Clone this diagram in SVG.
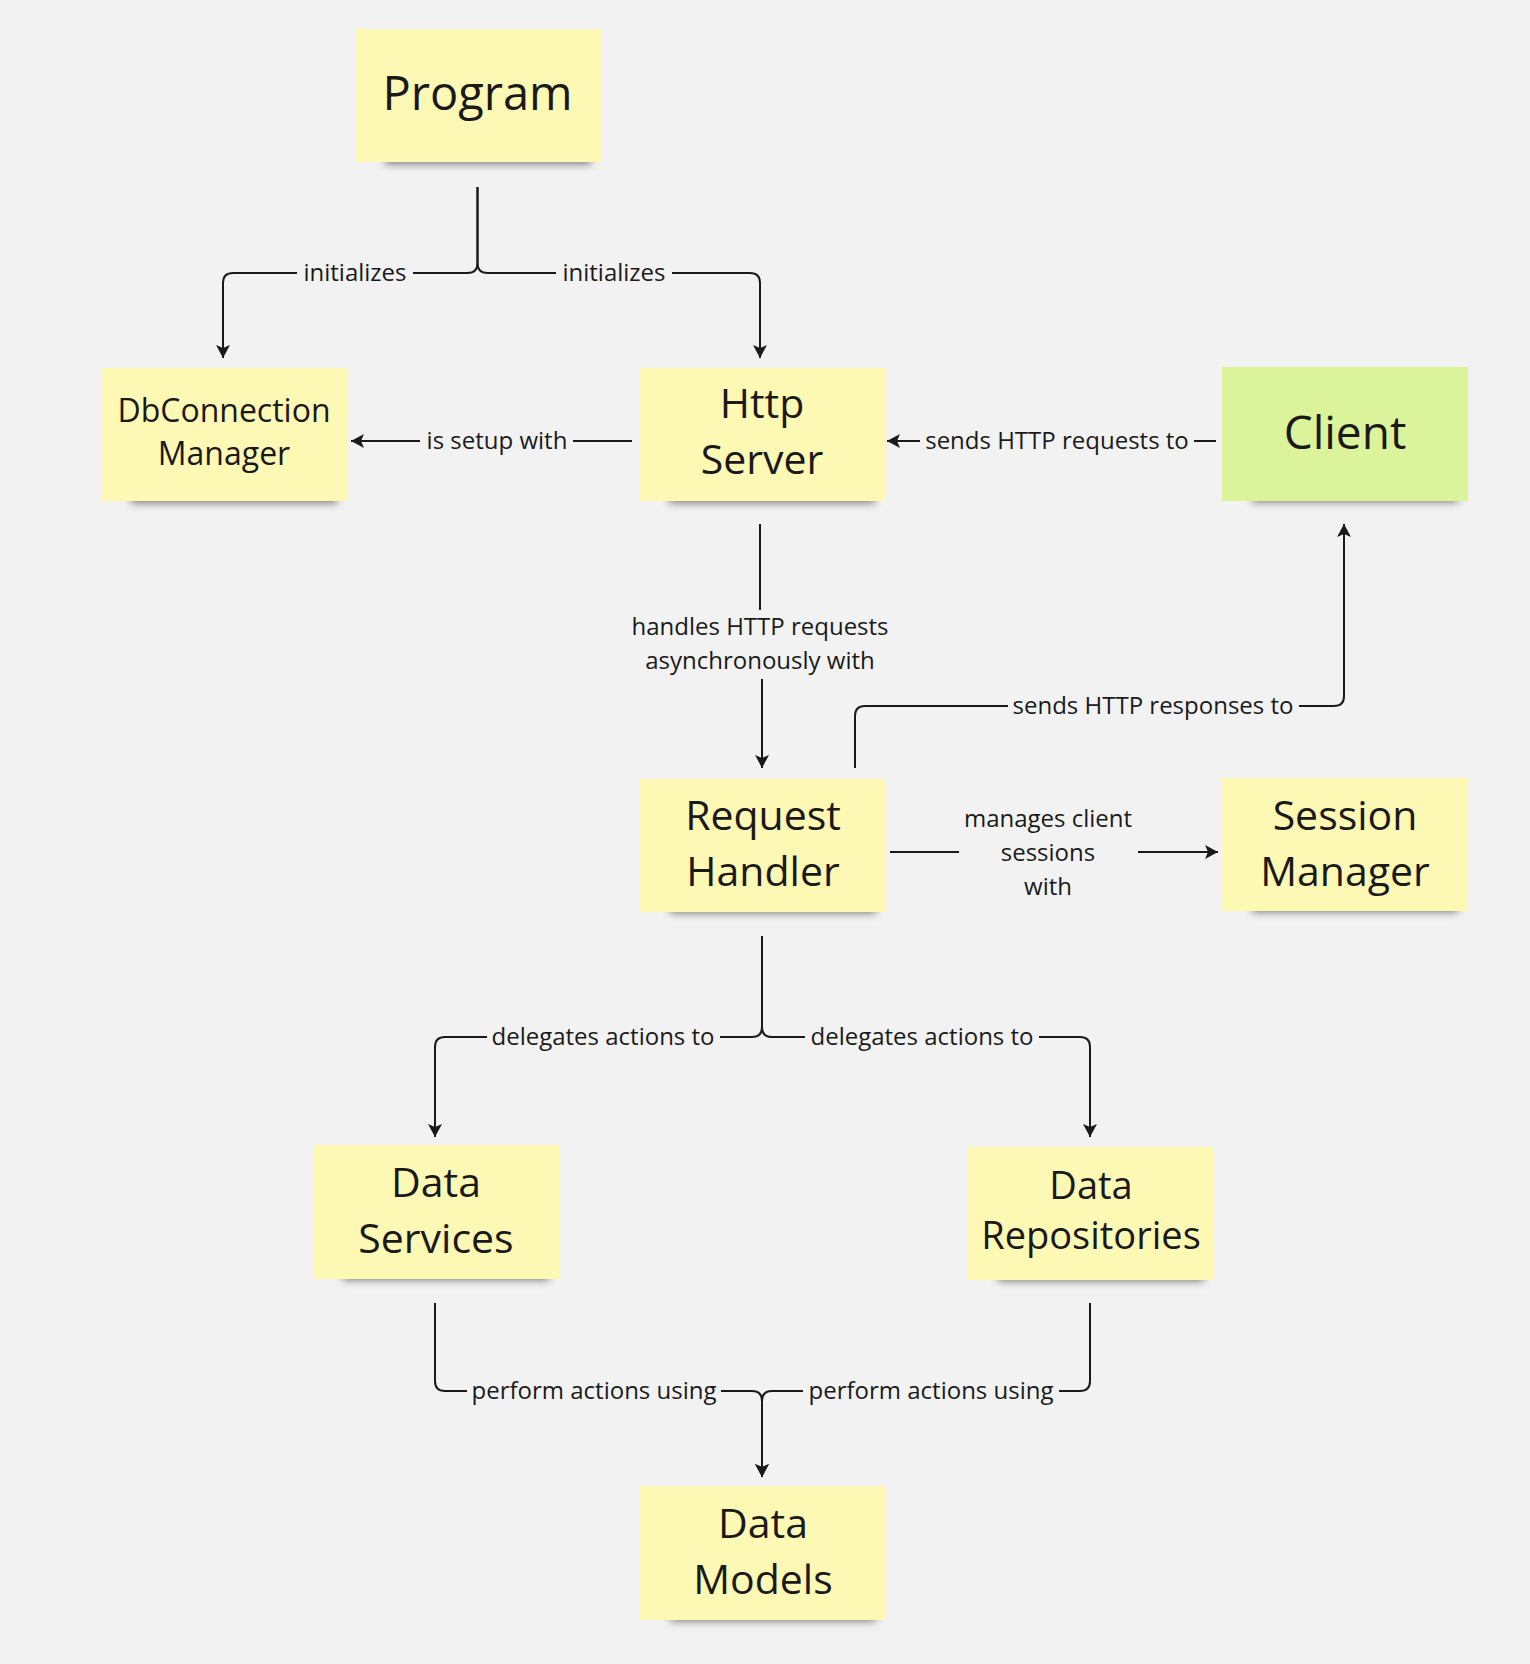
<svg xmlns="http://www.w3.org/2000/svg" width="1530" height="1664" viewBox="0 0 1530 1664">
<style>
.bg{fill:#f2f2f2}
.note{fill:#fef8b5}
.note.green{fill:#dbf39a}
.shadow{fill:#000;opacity:.5}
.nt{font-family:"Open Sans","Noto Sans",sans-serif;fill:#1a1a1a;text-anchor:middle}
.conn{fill:none;stroke:#1a1a1a;stroke-width:2}
.lbl{font-family:"Open Sans","Noto Sans",sans-serif;font-size:24px;fill:#1a1a1a;text-anchor:middle}
.lb{fill:#f2f2f2}
</style>
<defs>
<filter id="sh" x="-20%" y="-100%" width="140%" height="300%"><feGaussianBlur stdDeviation="4"/></filter>
<marker id="arr" markerWidth="14" markerHeight="16" refX="13" refY="8" orient="auto" markerUnits="userSpaceOnUse"><path d="M0,1 L13,8 L0,15 L3,8 z" fill="#1a1a1a"/></marker>
</defs>
<rect class="bg" x="0" y="0" width="1530" height="1664"/>

<g id="connectors">
<path class="conn" d="M477.5,187 V263 Q477.5,273 467.5,273 H233 Q223,273 223,283 V358" marker-end="url(#arr)"/>
<path class="conn" d="M477.5,187 V263 Q477.5,273 487.5,273 H750 Q760,273 760,283 V358" marker-end="url(#arr)"/>
<path class="conn" d="M632,441 H351" marker-end="url(#arr)"/>
<path class="conn" d="M1216,441 H887" marker-end="url(#arr)"/>
<path class="conn" d="M760,524 V610 M762,679 V768" marker-end="url(#arr)"/>
<path class="conn" d="M855,768 V716 Q855,706 865,706 H1334 Q1344,706 1344,696 V524" marker-end="url(#arr)"/>
<path class="conn" d="M890,852 H1218" marker-end="url(#arr)"/>
<path class="conn" d="M762,936 V1027 Q762,1037 752,1037 H445 Q435,1037 435,1047 V1137" marker-end="url(#arr)"/>
<path class="conn" d="M762,936 V1027 Q762,1037 772,1037 H1080 Q1090,1037 1090,1047 V1137" marker-end="url(#arr)"/>
<path class="conn" d="M435,1303 V1381 Q435,1391 445,1391 H752 Q762,1391 762,1401 V1477" marker-end="url(#arr)"/>
<path class="conn" d="M1090,1303 V1381 Q1090,1391 1080,1391 H772 Q762,1391 762,1401 V1477" marker-end="url(#arr)"/>

<rect class="lb" x="297" y="258" width="116" height="30"/>
<text class="lbl" x="355" y="281">initializes</text>
<rect class="lb" x="556" y="258" width="116" height="30"/>
<text class="lbl" x="614" y="281">initializes</text>
<rect class="lb" x="420" y="426" width="153" height="30"/>
<text class="lbl" x="497" y="449">is setup with</text>
<rect class="lb" x="920" y="426" width="274" height="30"/>
<text class="lbl" x="1057" y="449">sends HTTP requests to</text>
<text class="lbl" x="760" y="635">handles HTTP requests</text>
<text class="lbl" x="760" y="669">asynchronously with</text>
<rect class="lb" x="1008" y="691" width="291" height="30"/>
<text class="lbl" x="1153" y="714">sends HTTP responses to</text>
<rect class="lb" x="959" y="837" width="179" height="30"/>
<text class="lbl" x="1048" y="827">manages client</text>
<text class="lbl" x="1048" y="861">sessions</text>
<text class="lbl" x="1048" y="895">with</text>
<rect class="lb" x="487" y="1022" width="233" height="30"/>
<text class="lbl" x="603" y="1045">delegates actions to</text>
<rect class="lb" x="805" y="1022" width="234" height="30"/>
<text class="lbl" x="922" y="1045">delegates actions to</text>
<rect class="lb" x="467" y="1376" width="254" height="30"/>
<text class="lbl" x="594" y="1399">perform actions using</text>
<rect class="lb" x="803" y="1376" width="256" height="30"/>
<text class="lbl" x="931" y="1399">perform actions using</text>
</g>

<g id="program">
<rect class="shadow" x="385" y="150" width="206" height="14" filter="url(#sh)"/>
<rect class="note" x="355" y="29" width="246" height="133"/>
<text class="nt" x="477.5" y="110" font-size="47">Program</text>
</g>
<g id="dbconnection-manager">
<rect class="shadow" x="131" y="489" width="206" height="14" filter="url(#sh)"/>
<rect class="note" x="101" y="368" width="246" height="133"/>
<text class="nt" x="224" y="422" font-size="32">DbConnection</text>
<text class="nt" x="224" y="465" font-size="32">Manager</text>
</g>
<g id="http-server">
<rect class="shadow" x="669" y="489" width="206" height="14" filter="url(#sh)"/>
<rect class="note" x="639" y="368" width="246" height="133"/>
<text class="nt" x="762" y="418" font-size="41">Http</text>
<text class="nt" x="762" y="474" font-size="41">Server</text>
</g>
<g id="client">
<rect class="shadow" x="1252" y="488" width="206" height="14" filter="url(#sh)"/>
<rect class="note green" x="1222" y="367" width="246" height="134"/>
<text class="nt" x="1345" y="449" font-size="46">Client</text>
</g>
<g id="request-handler">
<rect class="shadow" x="670" y="899" width="206" height="14" filter="url(#sh)"/>
<rect class="note" x="640" y="779" width="246" height="133"/>
<text class="nt" x="763" y="830" font-size="41">Request</text>
<text class="nt" x="763" y="886" font-size="41">Handler</text>
</g>
<g id="session-manager">
<rect class="shadow" x="1252" y="898" width="206" height="14" filter="url(#sh)"/>
<rect class="note" x="1222" y="778" width="246" height="133"/>
<text class="nt" x="1345" y="830" font-size="41">Session</text>
<text class="nt" x="1345" y="886" font-size="41">Manager</text>
</g>
<g id="data-services">
<rect class="shadow" x="343" y="1266" width="206" height="14" filter="url(#sh)"/>
<rect class="note" x="313" y="1145" width="246" height="134"/>
<text class="nt" x="436" y="1197" font-size="41">Data</text>
<text class="nt" x="436" y="1253" font-size="41">Services</text>
</g>
<g id="data-repositories">
<rect class="shadow" x="998" y="1267" width="206" height="14" filter="url(#sh)"/>
<rect class="note" x="968" y="1147" width="246" height="133"/>
<text class="nt" x="1091" y="1199" font-size="38">Data</text>
<text class="nt" x="1091" y="1249" font-size="38">Repositories</text>
</g>
<g id="data-models">
<rect class="shadow" x="670" y="1607" width="206" height="14" filter="url(#sh)"/>
<rect class="note" x="640" y="1486" width="246" height="134"/>
<text class="nt" x="763" y="1538" font-size="41">Data</text>
<text class="nt" x="763" y="1594" font-size="41">Models</text>
</g>
</svg>
